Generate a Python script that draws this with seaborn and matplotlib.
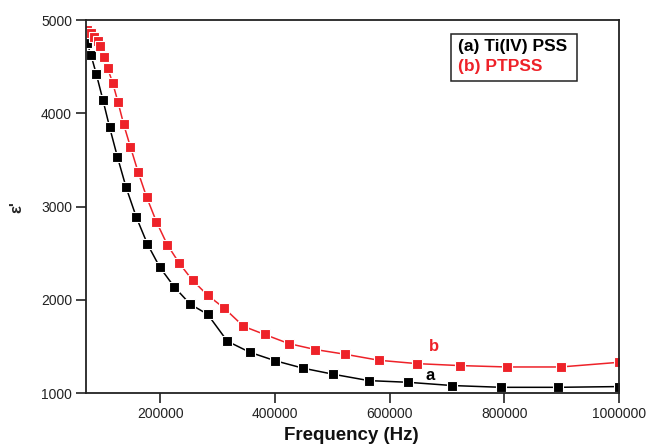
import matplotlib
matplotlib.use("Agg")
import matplotlib.pyplot as plt
import seaborn as sns
import pandas as pd
from matplotlib.ticker import FixedLocator, ScalarFormatter

# ---- data ----
freq_a = [71700, 78700, 88000, 99700, 111300, 124800, 140000, 158000, 177300, 198800,
          224000, 252000, 282200, 316700, 355700, 399500, 448000, 501500, 563400, 631700,
          709200, 795000, 893000, 1000000]
eps_a = [4757, 4625, 4421, 4140, 3849, 3534, 3206, 2884, 2598, 2351,
         2140, 1954, 1847, 1558, 1440, 1350, 1270, 1204, 1136, 1118,
         1083, 1064, 1064, 1072]

freq_b = [71700, 78700, 84500, 90300, 95000, 100800, 107800, 116500, 126000, 135800,
          147500, 161000, 176000, 193000, 211700, 232700, 256000, 282200, 311500, 344700,
          381500, 423700, 470000, 522500, 581000, 647400, 722000, 805000, 898000, 1000000]
eps_b = [4893, 4857, 4821, 4775, 4721, 4607, 4482, 4328, 4117, 3881,
         3641, 3370, 3099, 2837, 2594, 2394, 2210, 2051, 1911, 1718,
         1631, 1533, 1469, 1418, 1354, 1318, 1297, 1282, 1282, 1332]

series_labels = ["(a) Ti(IV) PSS", "(b) PTPSS"]
curve_tags = ["a", "b"]
x_ticks = [200000, 400000, 600000, 800000, 1000000]
y_ticks = [1000, 2000, 3000, 4000, 5000]

df = pd.concat([
    pd.DataFrame({"f": freq_a, "eps": eps_a, "s": series_labels[0]}),
    pd.DataFrame({"f": freq_b, "eps": eps_b, "s": series_labels[1]}),
])

sns.set_style("ticks")
plt.rcParams['font.family'] = ['Liberation Sans', 'DejaVu Sans']

fig = plt.figure(figsize=(6.48, 4.45), dpi=100)
ax = fig.add_axes([0.1327, 0.1162, 0.8225, 0.8388])

colors = {series_labels[0]: "#000000", series_labels[1]: "#ee2229"}
sns.lineplot(data=df, x="f", y="eps", hue="s", palette=colors, ax=ax,
             marker="s", markersize=7, markeredgecolor="white", markeredgewidth=0.8,
             linewidth=1.1, legend=False, sort=True, estimator=None)

ax.set_xlim(70000, 1000000)
ax.set_ylim(1000, 5000)
ax.xaxis.set_major_locator(FixedLocator(x_ticks))
ax.yaxis.set_major_locator(FixedLocator(y_ticks))
fmt = ScalarFormatter(useOffset=False)
fmt.set_scientific(False)
ax.xaxis.set_major_formatter(fmt)
ax.tick_params(axis='both', direction='out', length=7, width=1.2, labelsize=10,
               colors='#222222', pad=3)
for sp in ax.spines.values():
    sp.set_linewidth(1.3)
    sp.set_color('#222222')

ax.set_xlabel("")
ax.set_ylabel("ε'", fontsize=12, fontweight='bold', labelpad=12)

fig.text(351 / 648, 1 / 445, "Frequency (Hz)", fontsize=13.5, fontweight='bold',
         ha='center', va='bottom', color='#111111')

# legend-like text box
bx0, by0 = fig.transFigure.inverted().transform((450.7, 445 - 80.7))
bx1, by1 = fig.transFigure.inverted().transform((576.7, 445 - 34))
rect = plt.Rectangle((bx0, by0), bx1 - bx0, by1 - by0, transform=fig.transFigure,
                     fill=False, edgecolor='#222222', linewidth=1.1)
fig.add_artist(rect)
fig.text(458 / 648, 1 - 46 / 445, series_labels[0], fontsize=12.5, fontweight='bold',
         color='black', va='center', ha='left')
fig.text(458 / 648, 1 - 67 / 445, series_labels[1], fontsize=12.5, fontweight='bold',
         color='#ee2229', va='center', ha='left')

# curve labels
ax.text(670000, 1190, curve_tags[0], fontsize=12, fontweight='bold', color='black',
        ha='center', va='center')
ax.text(678000, 1500, curve_tags[1], fontsize=12, fontweight='bold', color='#ee2229',
        ha='center', va='center')

fig.savefig("out.png", dpi=100)
